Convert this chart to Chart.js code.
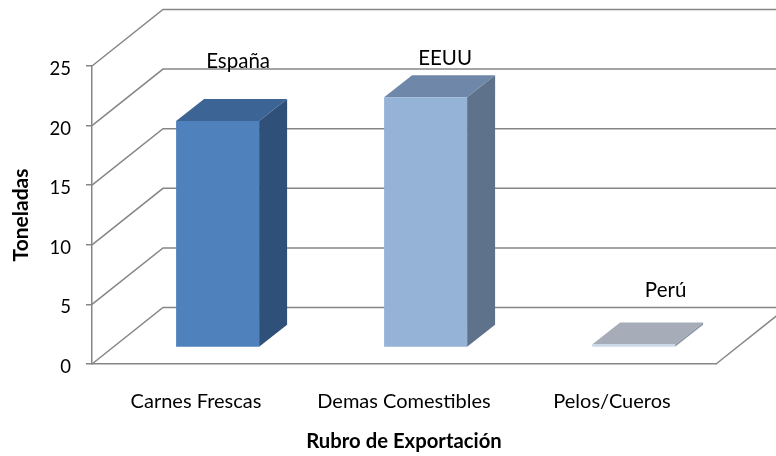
<!DOCTYPE html>
<html><head><meta charset="utf-8">
<style>html,body{margin:0;padding:0;background:#fff}canvas{display:block}</style>
<script src="https://cdn.jsdelivr.net/npm/chart.js@4"></script></head>
<body><canvas id="c" width="776" height="456"></canvas>
<script>
const categories = ["Carnes Frescas", "Demas Comestibles", "Pelos/Cueros"];
const tonnes = [19, 21, 0.25];
const countries = ["España", "EEUU", "Perú"];
const yMax = 25;
const yStep = 5;
const xTitle = "Rubro de Exportación";
const yTitle = "Toneladas";
const frontColors = ["#4F81BD", "#95B3D7", "#C9DAEE"];
const topColors = ["#3C6494", "#6F87A8", "#A6ADB9"];
const sideColors = ["#2F5078", "#5F728C", "#8E99A8"];
const labelNudges = [[6.5, -60], [5.5, -39], [18, -54]];

const FONT = "Lato, Carlito, sans-serif";
const GRID = "#868686";
const WALL = {dx: 71, dy: -56.5};
const BAR_SHIFT = {dx: 21.6, dy: -16.5};
const BAR_DEPTH = {dx: 28, dy: -22};
const Y_LABEL_DROP = 3;

const scene3d = {
  id: "scene3d",
  beforeDraw(chart) {
    chart.scales.y.getLabelItems(chart.chartArea).forEach(item => {
      if (!item.dropped) { item.options.translation[1] += Y_LABEL_DROP; item.dropped = true; }
    });
  },
  beforeDatasetsDraw(chart) {
    const {ctx, scales: {x, y}} = chart;
    ctx.save();
    ctx.strokeStyle = GRID;
    ctx.lineWidth = 1.5;
    const L = x.left, R = x.right;
    for (const t of y.ticks) {
      const py = y.getPixelForValue(t.value);
      ctx.beginPath();
      ctx.moveTo(L, py);
      ctx.lineTo(L + WALL.dx, py + WALL.dy);
      ctx.lineTo(R + WALL.dx, py + WALL.dy);
      ctx.stroke();
    }
    const p0 = y.getPixelForValue(0);
    ctx.beginPath();
    ctx.moveTo(R, p0);
    ctx.lineTo(R + WALL.dx, p0 + WALL.dy);
    ctx.stroke();
    ctx.restore();

    ctx.save();
    ctx.translate(BAR_SHIFT.dx, BAR_SHIFT.dy);
    chart.getDatasetMeta(0).data.forEach((b, i) => {
      const l = b.x - b.width / 2, r = b.x + b.width / 2;
      ctx.fillStyle = topColors[i];
      ctx.beginPath();
      ctx.moveTo(l, b.y);
      ctx.lineTo(l + BAR_DEPTH.dx, b.y + BAR_DEPTH.dy);
      ctx.lineTo(r + BAR_DEPTH.dx, b.y + BAR_DEPTH.dy);
      ctx.lineTo(r, b.y);
      ctx.closePath();
      ctx.fill();
      ctx.fillStyle = sideColors[i];
      ctx.beginPath();
      ctx.moveTo(r, b.y);
      ctx.lineTo(r + BAR_DEPTH.dx, b.y + BAR_DEPTH.dy);
      ctx.lineTo(r + BAR_DEPTH.dx, b.base + BAR_DEPTH.dy);
      ctx.lineTo(r, b.base);
      ctx.closePath();
      ctx.fill();
    });
    // leave the translation active for the library's own bar drawing
  },
  afterDatasetsDraw(chart) {
    const {ctx, scales: {x}} = chart;
    ctx.restore();
    ctx.save();
    ctx.fillStyle = "#000";
    ctx.font = "20.5px " + FONT;
    ctx.textAlign = "center";
    ctx.textBaseline = "middle";
    chart.getDatasetMeta(0).data.forEach((b, i) => {
      ctx.fillText(countries[i],
        x.getPixelForValue(i) + BAR_SHIFT.dx + labelNudges[i][0] + BAR_DEPTH.dx / 2,
        b.y + BAR_SHIFT.dy + labelNudges[i][1]);
    });
    ctx.restore();
  }
};

new Chart(document.getElementById("c"), {
  type: "bar",
  plugins: [scene3d],
  data: {
    labels: categories,
    datasets: [{
      data: tonnes,
      backgroundColor: frontColors,
      borderWidth: 0,
      categoryPercentage: 1,
      barPercentage: 0.399,
      clip: false
    }]
  },
  options: {
    responsive: false,
    animation: false,
    layout: {padding: {left: 0, right: 60, top: 66, bottom: 0}},
    plugins: {legend: {display: false}, tooltip: {enabled: false}},
    scales: {
      x: {
        grid: {display: false},
        border: {color: GRID, width: 1.5},
        ticks: {color: "#000", font: {family: FONT, size: 20}, padding: 18, maxRotation: 0},
        title: {display: true, text: xTitle, color: "#000", font: {family: FONT, size: 20.3, weight: "bold"}, padding: {top: 4, bottom: 2}},
        afterFit(s) { s.height = 92; }
      },
      y: {
        min: 0, max: yMax,
        grid: {drawOnChartArea: false, drawTicks: true, tickLength: 6, color: GRID, lineWidth: 1.5},
        border: {color: GRID, width: 1.5},
        ticks: {stepSize: yStep, color: "#000", font: {family: FONT, size: 18.5}, padding: 15},
        title: {display: true, text: yTitle, color: "#000", font: {family: FONT, size: 21, weight: "bold"}, padding: {top: 9, bottom: 4}},
        afterFit(s) { s.width = 92; }
      }
    }
  }
});
</script></body></html>
